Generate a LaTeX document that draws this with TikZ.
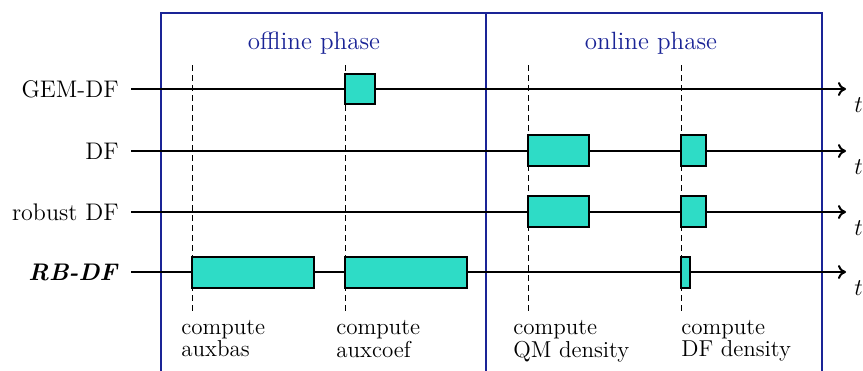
\documentclass[tikz,border=0pt]{standalone}
\usetikzlibrary{arrows.meta}
\definecolor{boxfill}{HTML}{2EDCC6}
\definecolor{phaseblue}{HTML}{1A2496}
\tikzset{
  tl/.style={line width=1pt,-{To[length=4pt,width=7pt]}},
  blk/.style={draw=black,line width=0.55pt,fill=boxfill},
  dsh/.style={line width=0.5pt,dash pattern=on 2.8pt off 2.2pt},
  frame/.style={draw=phaseblue,line width=1pt},
  lbl/.style={font=\fontsize{12}{14}\selectfont,anchor=east,inner xsep=6pt,inner ysep=0pt},
  phase/.style={font=\fontsize{12.5}{15}\selectfont,text=phaseblue},
  tlab/.style={font=\fontsize{12}{14}\selectfont,anchor=base west,inner sep=0pt},
  cmp/.style={font=\fontsize{11.5}{9.6}\selectfont,align=left,anchor=north west,inner sep=0pt}
}
\begin{document}
\begin{tikzpicture}[x=0.5pt,y=-0.5pt]
\useasboundingbox (0,0) rectangle (863,370);
% frame
\draw[frame] (161,372) -- (161,13) -- (822,13) -- (822,372);
\draw[frame] (486,13) -- (486,372);
\node[phase] (off) at (314,43) {offline phase};
\node[phase] (on) at (651,43) {online phase};
% labels
\node[lbl] (l1) at (131,89) {GEM-DF};
\node[lbl] (l2) at (131,151) {DF};
\node[lbl] (l3) at (131,212) {robust DF};
\node[lbl] (l4) at (131,272) {\textbf{\textit{RB-DF}}};
\coordinate (e1) at (846,89);
\coordinate (e2) at (846,151);
\coordinate (e3) at (846,212);
\coordinate (e4) at (846,272);
\draw[tl] (l1.east) -- (e1);
\draw[tl] (l2.east) -- (e2);
\draw[tl] (l3.east) -- (e3);
\draw[tl] (l4.east) -- (e4);
\node[tlab] (t1) at (854,112) {$t$};
\node[tlab] (t2) at (854,174) {$t$};
\node[tlab] (t3) at (854,235) {$t$};
\node[tlab] (t4) at (854,295) {$t$};
% boxes
\draw[blk] (345,74) rectangle (375,104);
\draw[blk] (528,135) rectangle (589,166);
\draw[blk] (681,135) rectangle (706,166);
\draw[blk] (528,196) rectangle (589,227);
\draw[blk] (681,196) rectangle (706,227);
\draw[blk] (192,257) rectangle (314,288);
\draw[blk] (345,257) rectangle (467,288);
\draw[blk] (681,257) rectangle (690,288);
% dashed
\draw[dsh] (192,65) -- (192,312);
\draw[dsh] (345,65) -- (345,312);
\draw[dsh] (528,65) -- (528,312);
\draw[dsh] (681,65) -- (681,312);
% bottom texts
\node[cmp] (c1) at (181,320) {compute\\auxbas};
\node[cmp] (c2) at (336,320) {compute\\auxcoef};
\node[cmp] (c3) at (513,320) {compute\\QM density};
\node[cmp] (c4) at (681,320) {compute\\DF density};
\end{tikzpicture}
\end{document}
